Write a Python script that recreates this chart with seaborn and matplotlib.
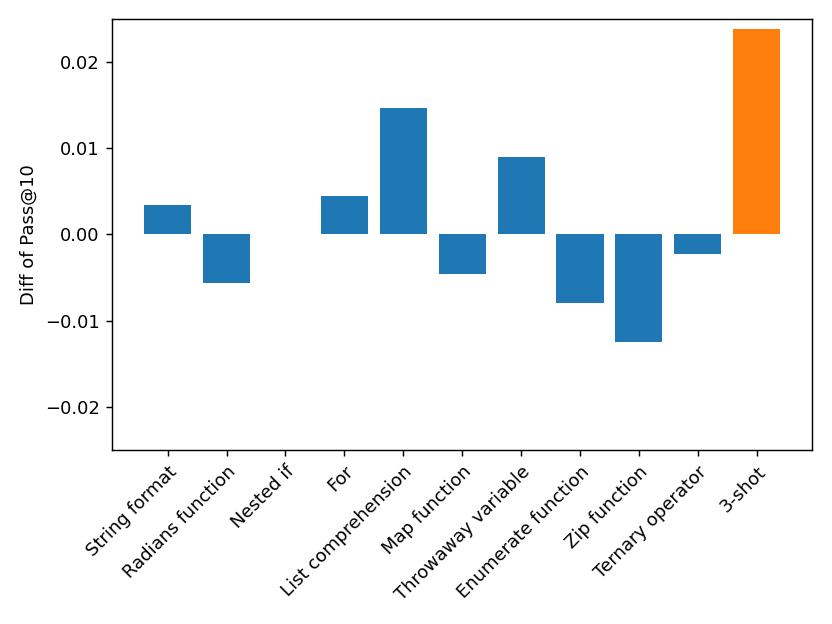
import pandas as pd
import matplotlib
matplotlib.use("Agg")
import matplotlib.pyplot as plt
import seaborn as sns

# Values
methods = ["String format", "Radians function", "Nested if", "For",
           "List comprehension", "Map function", "Throwaway variable",
           "Enumerate function", "Zip function", "Ternary operator", "3-shot"]
diff_pass10 = [0.00337, -0.0057, -0.00002, 0.0045, 0.01465, -0.00457,
               0.00899, -0.00798, -0.01252, -0.00233, 0.0238]
bar_colors = ["#1f77b4"] * 10 + ["#ff7f0e"]

df = pd.DataFrame({"Method": methods, "Diff": diff_pass10})

fig, ax = plt.subplots(figsize=(6.4, 4.8), dpi=130)
sns.barplot(data=df, x="Method", y="Diff", hue="Method", palette=bar_colors,
            saturation=1, width=0.8, legend=False, ax=ax)
ax.set_xlim(-0.94, 10.94)
ax.set_ylim(-0.025, 0.025)
ax.set_xlabel("")
ax.set_ylabel("Diff of Pass@10")
plt.setp(ax.get_xticklabels(), rotation=45, ha="right", rotation_mode="anchor")
fig.subplots_adjust(left=0.135, right=0.976, top=0.97, bottom=0.279)
fig.savefig("out.png")
